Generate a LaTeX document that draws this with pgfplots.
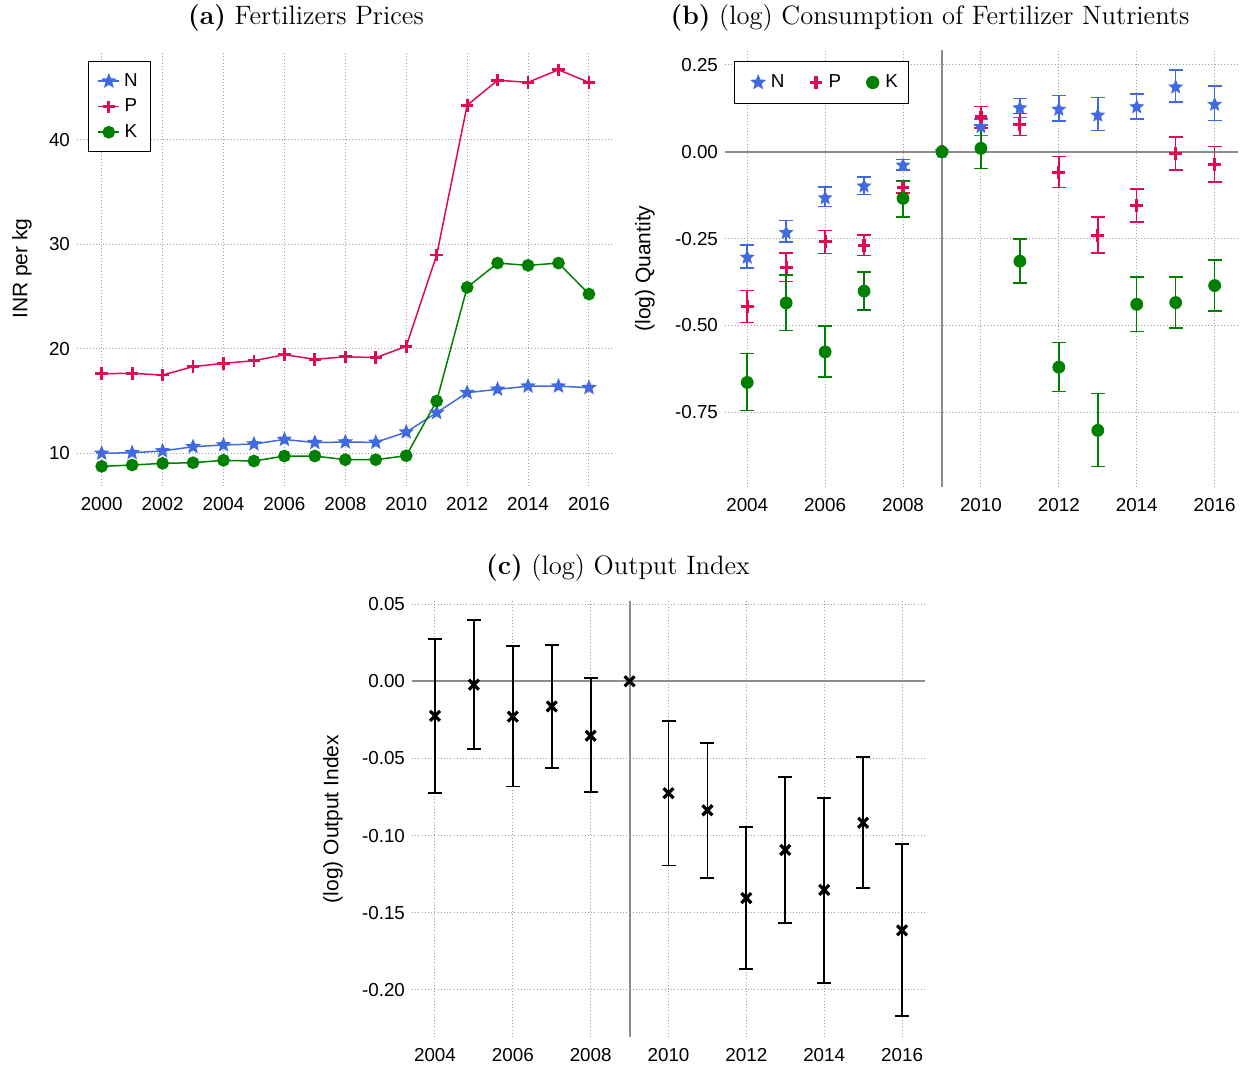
\documentclass[border=0pt]{standalone}
\usepackage{fontspec}
\setsansfont{Liberation Sans}
\usepackage{pgfplots}
\usepackage{pgfplotstable}
\pgfplotsset{compat=1.18}
\definecolor{Nc}{RGB}{65,105,225}
\definecolor{Pc}{RGB}{226,10,80}
\definecolor{Kc}{RGB}{0,128,0}
\definecolor{refline}{RGB}{140,140,140}

\pgfdeclareplotmark{fstar}{%
  \pgfpathmoveto{\pgfqpointpolar{90}{\pgfplotmarksize}}%
  \pgfpathlineto{\pgfqpointpolar{126}{0.44\pgfplotmarksize}}%
  \pgfpathlineto{\pgfqpointpolar{162}{\pgfplotmarksize}}%
  \pgfpathlineto{\pgfqpointpolar{198}{0.44\pgfplotmarksize}}%
  \pgfpathlineto{\pgfqpointpolar{234}{\pgfplotmarksize}}%
  \pgfpathlineto{\pgfqpointpolar{270}{0.44\pgfplotmarksize}}%
  \pgfpathlineto{\pgfqpointpolar{306}{\pgfplotmarksize}}%
  \pgfpathlineto{\pgfqpointpolar{342}{0.44\pgfplotmarksize}}%
  \pgfpathlineto{\pgfqpointpolar{18}{\pgfplotmarksize}}%
  \pgfpathlineto{\pgfqpointpolar{54}{0.44\pgfplotmarksize}}%
  \pgfpathclose
  \pgfusepathqfillstroke
}

\pgfplotstableread{
x N P K
2000 9.97 17.60 8.72
2001 10.03 17.63 8.85
2002 10.20 17.47 9.01
2003 10.60 18.27 9.07
2004 10.77 18.59 9.30
2005 10.86 18.84 9.23
2006 11.30 19.42 9.71
2007 11.00 18.97 9.71
2008 11.05 19.22 9.36
2009 11.02 19.13 9.36
2010 12.00 20.21 9.74
2011 13.86 28.96 14.98
2012 15.78 43.30 25.86
2013 16.10 45.70 28.19
2014 16.40 45.50 27.97
2015 16.40 46.70 28.19
2016 16.26 45.50 25.22
}\pricetab

\pgfplotstableread{
x y ep em
2004 -0.304 0.035 0.030
2005 -0.233 0.035 0.027
2006 -0.133 0.031 0.025
2007 -0.099 0.026 0.024
2008 -0.039 0.017 0.014
2010 0.072 0.022 0.025
2011 0.126 0.027 0.028
2012 0.122 0.040 0.034
2013 0.105 0.051 0.044
2014 0.129 0.038 0.034
2015 0.186 0.050 0.042
2016 0.136 0.053 0.046
}\qN

\pgfplotstableread{
x y ep em
2004 -0.445 0.046 0.046
2005 -0.332 0.041 0.041
2006 -0.259 0.032 0.034
2007 -0.269 0.029 0.029
2008 -0.102 0.017 0.016
2010 0.100 0.030 0.031
2011 0.079 0.031 0.032
2012 -0.059 0.045 0.044
2013 -0.240 0.053 0.051
2014 -0.154 0.047 0.048
2015 -0.005 0.047 0.047
2016 -0.037 0.052 0.050
}\qP

\pgfplotstableread{
x y ep em
2004 -0.664 0.084 0.081
2005 -0.435 0.080 0.080
2006 -0.576 0.074 0.073
2007 -0.401 0.055 0.054
2008 -0.134 0.052 0.053
2010 0.010 0.066 0.058
2011 -0.315 0.064 0.063
2012 -0.620 0.071 0.070
2013 -0.802 0.106 0.104
2014 -0.439 0.079 0.079
2015 -0.434 0.073 0.073
2016 -0.385 0.073 0.074
}\qK

\pgfplotstableread{
x y ep em
2004 -0.0224 0.0496 0.0501
2005 -0.0022 0.0421 0.0418
2006 -0.0229 0.0458 0.0453
2007 -0.0163 0.0400 0.0399
2008 -0.0353 0.0373 0.0363
2010 -0.0725 0.0468 0.0468
2011 -0.0836 0.0437 0.0440
2012 -0.1405 0.0462 0.0461
2013 -0.1093 0.0475 0.0473
2014 -0.1352 0.0596 0.0604
2015 -0.0917 0.0425 0.0424
2016 -0.1614 0.0560 0.0555
}\outtab

\pgfplotsset{
  base/.style={
    scale only axis,
    anchor=north west,
    axis line style={draw=none},
    xtick style={draw=none},
    ytick style={draw=none},
    grid=major,
    major grid style={gray!75, line width=0.5pt, dash pattern=on 0.5pt off 1.1pt},
    tick label style={font=\sffamily\fontsize{9.4}{11}\selectfont},
    label style={font=\sffamily\fontsize{10.5}{12}\selectfont},
    xticklabel style={yshift=-2pt},
    legend style={font=\sffamily\fontsize{9.4}{11}\selectfont, draw=black, line width=0.6pt},
  },
  ebar/.style={/pgfplots/error bars/.cd, y dir=both, y explicit,
    error bar style={line width=#1, solid},
    error mark options={rotate=90, mark size=3.5pt, line width=#1},
    /pgfplots/.cd},
  ebar/.default=0.75pt,
}

\begin{document}
\begin{tikzpicture}
\useasboundingbox (0,0) rectangle (622.5pt,-533.5pt);

% ---------- titles
\node[font=\fontsize{13.3}{15}\selectfont, anchor=base] at (153pt,-12pt) {\textbf{(a)} Fertilizers Prices};
\node[font=\fontsize{13.3}{15}\selectfont, anchor=base] at (465pt,-12pt) {\textbf{(b)} (log) Consumption of Fertilizer Nutrients};
\node[font=\fontsize{13.3}{15}\selectfont, anchor=base] at (309pt,-287pt) {\textbf{(c)} (log) Output Index};

% ---------- (a)
\begin{axis}[base, at={(38.5pt,-25.5pt)}, width=268pt, height=217.5pt,
  xmin=1999.19, xmax=2016.79, ymin=6.84, ymax=48.5,
  xtick={2000,2002,2004,2006,2008,2010,2012,2014,2016},
  xticklabels={2000,2002,2004,2006,2008,2010,2012,2014,2016},
  ytick={10,20,30,40}, yticklabels={10,20,30,40},
  ylabel={INR per kg},
  ylabel style={at={(axis description cs:-0.1026,0.5)}, anchor=center},
  legend style={at={(0.0205,0.977)}, anchor=north west, row sep=0.8pt,
    inner xsep=4.5pt, inner ysep=3.8pt},
  legend image code/.code={\draw[mark repeat=2,mark phase=2,#1] plot coordinates {(0pt,0pt) (5.25pt,0pt) (10.5pt,0pt)};},
]
\addplot[Nc, line width=0.75pt, mark=fstar, mark size=3.1pt] table[x=x,y=N] {\pricetab};
\addlegendentry{N}
\addplot[Pc, line width=0.75pt, mark=+, mark size=3.1pt, mark options={line width=1.4pt}] table[x=x,y=P] {\pricetab};
\addlegendentry{P}
\addplot[Kc, line width=0.75pt, mark=*, mark size=2.8pt] table[x=x,y=K] {\pricetab};
\addlegendentry{K}
\end{axis}

% ---------- (b)
\begin{axis}[base, at={(362.5pt,-25pt)}, width=256.5pt, height=218.5pt,
  xmin=2003.43, xmax=2016.6, ymin=-0.965, ymax=0.293,
  xtick={2004,2006,2008,2010,2012,2014,2016},
  xticklabels={2004,2006,2008,2010,2012,2014,2016},
  ytick={-0.75,-0.5,-0.25,0,0.25}, yticklabels={-0.75,-0.50,-0.25,0.00,0.25},
  ylabel={(log) Quantity},
  ylabel style={at={(axis description cs:-0.156,0.5)}, anchor=center},
  legend columns=3,
  legend image code/.code={\path (-8pt,0pt) (4pt,0pt); \draw[#1] plot coordinates {(0pt,0pt)};},
  legend style={at={(0.0175,0.975)}, anchor=north west, inner xsep=3.5pt, inner ysep=4.5pt,
    /tikz/every even column/.append style={column sep=5.5pt}},
]
\addplot[refline, line width=0.9pt, forget plot] coordinates {(2003.43,0) (2016.6,0)};
\addplot[refline, line width=1pt, forget plot] coordinates {(2009,-0.965) (2009,0.293)};
\addplot[Nc, only marks, mark=fstar, mark size=3.4pt, ebar] table[x=x,y=y,y error plus=ep,y error minus=em] {\qN};
\addlegendentry{N}
\addplot[Pc, only marks, mark=+, mark size=3.2pt, mark options={line width=1.6pt}, ebar] table[x=x,y=y,y error plus=ep,y error minus=em] {\qP};
\addlegendentry{P}
\addplot[Kc, only marks, mark=*, mark size=3pt, ebar] table[x=x,y=y,y error plus=ep,y error minus=em] {\qK};
\addlegendentry{K}
\addplot[Nc, only marks, mark=fstar, mark size=3.4pt, forget plot] coordinates {(2009,0)};
\addplot[Pc, only marks, mark=+, mark size=3.2pt, mark options={line width=1.6pt}, forget plot] coordinates {(2009,0)};
\addplot[Kc, only marks, mark=*, mark size=3pt, forget plot] coordinates {(2009,0)};
\end{axis}

% ---------- (c)
\begin{axis}[base, at={(206pt,-300.5pt)}, width=256.5pt, height=218pt,
  xmin=2003.41, xmax=2016.59, ymin=-0.2305, ymax=0.052,
  xtick={2004,2006,2008,2010,2012,2014,2016},
  xticklabels={2004,2006,2008,2010,2012,2014,2016},
  ytick={-0.2,-0.15,-0.1,-0.05,0,0.05}, yticklabels={-0.20,-0.15,-0.10,-0.05,0.00,0.05},
  ylabel={(log) Output Index},
  ylabel style={at={(axis description cs:-0.154,0.5)}, anchor=center},
]
\addplot[refline, line width=0.9pt, forget plot] coordinates {(2003.41,0) (2016.59,0)};
\addplot[refline, line width=1pt, forget plot] coordinates {(2009,-0.2305) (2009,0.052)};
\addplot[black, only marks, mark=x, mark size=3.5pt, mark options={line width=1.6pt}, ebar=0.9pt]
  table[x=x,y=y,y error plus=ep,y error minus=em] {\outtab};
\addplot[black, only marks, mark=x, mark size=3.5pt, mark options={line width=1.6pt}] coordinates {(2009,0)};
\end{axis}
\end{tikzpicture}
\end{document}
